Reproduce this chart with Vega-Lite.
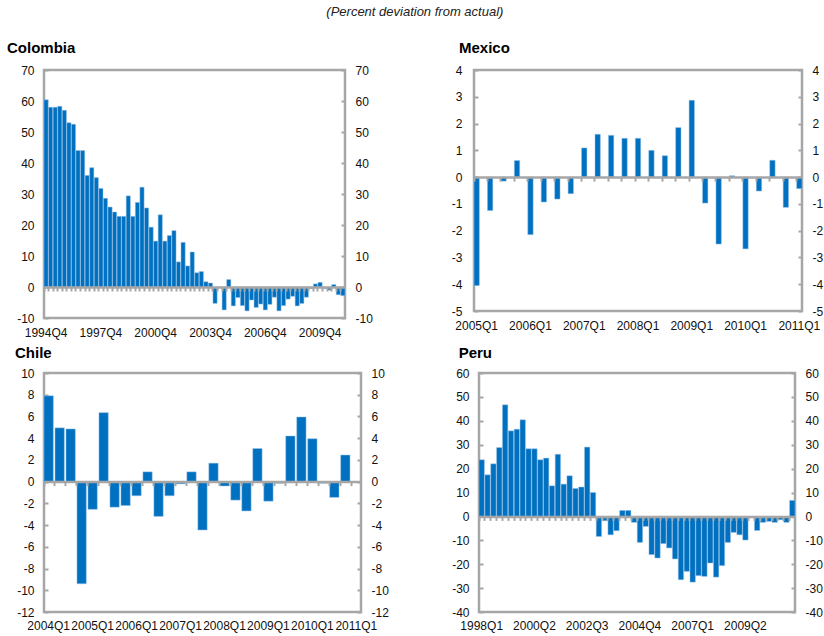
{
  "$schema": "https://vega.github.io/schema/vega-lite/v6.json",
  "padding": {"left": 5, "top": 5, "right": 0, "bottom": 0},
  "background": "white",
  "title": {"text": "(Percent deviation from actual)", "fontStyle": "italic", "fontWeight": "normal", "fontSize": 13, "font": "Liberation Sans", "color": "#222", "anchor": "middle", "offset": 21},
  "config": {
    "font": "Liberation Sans",
    "view": {"stroke": "#A6A6A6", "strokeWidth": 2.5},
    "axis": {"labelFont": "Liberation Sans", "labelFontSize": 12, "labelColor": "#111", "tickColor": "#A6A6A6", "tickWidth": 2, "title": null, "grid": false},
    "axisY": {"labelExpr": "'' + datum.value"},
    "title": {"font": "Liberation Sans", "fontSize": 15, "fontWeight": "bold", "color": "#000", "anchor": "start", "offset": 8}
  },
  "vconcat": [
    {
      "spacing": 71,
      "hconcat": [
        {
          "title": {"text": "Colombia"},
          "width": 301, "height": 248,
          "data": {"values": [
            {"q":"1994Q4","v":60.4},{"q":"1995Q1","v":58},{"q":"1995Q2","v":58},{"q":"1995Q3","v":58.3},{"q":"1995Q4","v":57},
            {"q":"1996Q1","v":53},{"q":"1996Q2","v":52.5},{"q":"1996Q3","v":44},{"q":"1996Q4","v":44},
            {"q":"1997Q1","v":36},{"q":"1997Q2","v":38.5},{"q":"1997Q3","v":35.3},{"q":"1997Q4","v":31.8},
            {"q":"1998Q1","v":28.6},{"q":"1998Q2","v":25.8},{"q":"1998Q3","v":24.2},{"q":"1998Q4","v":22.8},
            {"q":"1999Q1","v":22.8},{"q":"1999Q2","v":29.4},{"q":"1999Q3","v":22.8},{"q":"1999Q4","v":27.3},
            {"q":"2000Q1","v":32.2},{"q":"2000Q2","v":25.5},{"q":"2000Q3","v":19.3},{"q":"2000Q4","v":14.8},
            {"q":"2001Q1","v":23.3},{"q":"2001Q2","v":14.8},{"q":"2001Q3","v":16.6},{"q":"2001Q4","v":18.2},
            {"q":"2002Q1","v":8.1},{"q":"2002Q2","v":14.4},{"q":"2002Q3","v":6.8},{"q":"2002Q4","v":11.3},
            {"q":"2003Q1","v":4.6},{"q":"2003Q2","v":5},{"q":"2003Q3","v":1.7},{"q":"2003Q4","v":1.3},
            {"q":"2004Q1","v":-5.3},{"q":"2004Q2","v":-0.3},{"q":"2004Q3","v":-7.4},{"q":"2004Q4","v":2.4},
            {"q":"2005Q1","v":-6.1},{"q":"2005Q2","v":-3.4},{"q":"2005Q3","v":-6},{"q":"2005Q4","v":-7.7},
            {"q":"2006Q1","v":-4.2},{"q":"2006Q2","v":-6.6},{"q":"2006Q3","v":-5.5},{"q":"2006Q4","v":-7.4},
            {"q":"2007Q1","v":-5.6},{"q":"2007Q2","v":-3.3},{"q":"2007Q3","v":-7.7},{"q":"2007Q4","v":-6},
            {"q":"2008Q1","v":-3.9},{"q":"2008Q2","v":-3},{"q":"2008Q3","v":-6.1},{"q":"2008Q4","v":-5.3},
            {"q":"2009Q1","v":-3.3},{"q":"2009Q2","v":-0.5},{"q":"2009Q3","v":1},{"q":"2009Q4","v":1.5},
            {"q":"2010Q1","v":-0.5},{"q":"2010Q2","v":-1},{"q":"2010Q3","v":0.8},{"q":"2010Q4","v":-2.5},
            {"q":"2011Q1","v":-2.8}
          ]},
          "layer": [
            {
              "mark": {"type": "bar", "color": "#0070C0", "stroke": "#9DC3E6", "strokeWidth": 0.5},
              "encoding": {
                "x": {"field": "q", "type": "ordinal", "sort": null, "scale": {"paddingInner": 0.08, "paddingOuter": 0},
                      "axis": {"orient": "bottom", "values": ["1994Q4","1997Q4","2000Q4","2003Q4","2006Q4","2009Q4"], "ticks": false, "domain": false, "labelAngle": 0, "labelPadding": 9, "labelOverlap": false}},
                "y": {"field": "v", "type": "quantitative", "scale": {"domain": [-10, 70], "nice": false, "zero": false},
                      "axis": {"orient": "left", "values": [-10,0,10,20,30,40,50,60,70], "domain": false, "tickSize": -4, "labelPadding": 14, "minExtent": 37}}
              }
            },
            {
              "mark": {"type": "bar", "opacity": 0},
              "encoding": {
                "x": {"field": "q", "type": "ordinal", "sort": null,
                      "axis": {"orient": "bottom", "offset": -31, "labels": false, "ticks": true, "tickSize": 4, "bandPosition": 0, "domain": true, "domainColor": "#A6A6A6", "domainWidth": 2.5, "zindex": 1}},
                "y": {"field": "v", "type": "quantitative",
                      "axis": {"orient": "right", "values": [-10,0,10,20,30,40,50,60,70], "domain": false, "tickSize": -4, "labelPadding": 14, "minExtent": 30}}
              }
            }
          ],
          "resolve": {"axis": {"x": "independent", "y": "independent"}}
        },
        {
          "title": {"text": "Mexico", "dx": 9},
          "width": 328, "height": 241,
          "data": {"values": [
            {"q":"2005Q1","v":-4.05},{"q":"2005Q2","v":-1.25},{"q":"2005Q3","v":-0.15},{"q":"2005Q4","v":0.62},
            {"q":"2006Q1","v":-2.15},{"q":"2006Q2","v":-0.93},{"q":"2006Q3","v":-0.82},{"q":"2006Q4","v":-0.62},
            {"q":"2007Q1","v":1.09},{"q":"2007Q2","v":1.6},{"q":"2007Q3","v":1.56},{"q":"2007Q4","v":1.45},
            {"q":"2008Q1","v":1.45},{"q":"2008Q2","v":1.0},{"q":"2008Q3","v":0.8},{"q":"2008Q4","v":1.85},
            {"q":"2009Q1","v":2.87},{"q":"2009Q2","v":-0.97},{"q":"2009Q3","v":-2.5},{"q":"2009Q4","v":0.05},
            {"q":"2010Q1","v":-2.68},{"q":"2010Q2","v":-0.52},{"q":"2010Q3","v":0.63},{"q":"2010Q4","v":-1.13},
            {"q":"2011Q1","v":-0.43}
          ]},
          "layer": [
            {
              "mark": {"type": "bar", "color": "#0070C0", "stroke": "#9DC3E6", "strokeWidth": 0.5},
              "encoding": {
                "x": {"field": "q", "type": "ordinal", "sort": null, "scale": {"paddingInner": 0.6, "paddingOuter": 0},
                      "axis": {"orient": "bottom", "values": ["2005Q1","2006Q1","2007Q1","2008Q1","2009Q1","2010Q1","2011Q1"], "ticks": false, "domain": false, "labelAngle": 0, "labelPadding": 9, "labelOverlap": false}},
                "y": {"field": "v", "type": "quantitative", "scale": {"domain": [-5, 4], "nice": false, "zero": false},
                      "axis": {"orient": "left", "values": [-5,-4,-3,-2,-1,0,1,2,3,4], "domain": false, "tickSize": -4, "labelPadding": 16, "minExtent": 24}}
              }
            },
            {
              "mark": {"type": "bar", "opacity": 0},
              "encoding": {
                "x": {"field": "q", "type": "ordinal", "sort": null,
                      "axis": {"orient": "bottom", "offset": -133.9, "labels": false, "ticks": true, "tickSize": 4, "bandPosition": 0, "domain": true, "domainColor": "#A6A6A6", "domainWidth": 2.5, "zindex": 1}},
                "y": {"field": "v", "type": "quantitative",
                      "axis": {"orient": "right", "values": [-5,-4,-3,-2,-1,0,1,2,3,4], "domain": false, "tickSize": -4, "labelPadding": 14}}
              }
            }
          ],
          "resolve": {"axis": {"x": "independent", "y": "independent"}}
        }
      ]
    },
    {
      "spacing": 57,
      "hconcat": [
        {
          "title": {"text": "Chile", "dx": 2, "offset": 6},
          "width": 317, "height": 239,
          "data": {"values": [
            {"q":"2004Q1","v":7.9},{"q":"2004Q2","v":4.95},{"q":"2004Q3","v":4.85},{"q":"2004Q4","v":-9.4},
            {"q":"2005Q1","v":-2.55},{"q":"2005Q2","v":6.35},{"q":"2005Q3","v":-2.35},{"q":"2005Q4","v":-2.2},
            {"q":"2006Q1","v":-1.3},{"q":"2006Q2","v":0.9},{"q":"2006Q3","v":-3.2},{"q":"2006Q4","v":-1.3},
            {"q":"2007Q1","v":-0.2},{"q":"2007Q2","v":0.9},{"q":"2007Q3","v":-4.45},{"q":"2007Q4","v":1.7},
            {"q":"2008Q1","v":-0.4},{"q":"2008Q2","v":-1.7},{"q":"2008Q3","v":-2.7},{"q":"2008Q4","v":3.05},
            {"q":"2009Q1","v":-1.8},{"q":"2009Q2","v":-0.15},{"q":"2009Q3","v":4.2},{"q":"2009Q4","v":5.95},
            {"q":"2010Q1","v":3.95},{"q":"2010Q2","v":-0.15},{"q":"2010Q3","v":-1.45},{"q":"2010Q4","v":2.45},
            {"q":"2011Q1","v":0}
          ]},
          "layer": [
            {
              "mark": {"type": "bar", "color": "#0070C0", "stroke": "#9DC3E6", "strokeWidth": 0.5},
              "encoding": {
                "x": {"field": "q", "type": "ordinal", "sort": null, "scale": {"paddingInner": 0.15, "paddingOuter": 0},
                      "axis": {"orient": "bottom", "values": ["2004Q1","2005Q1","2006Q1","2007Q1","2008Q1","2009Q1","2010Q1","2011Q1"], "ticks": false, "domain": false, "labelAngle": 0, "labelPadding": 8, "labelOverlap": false}},
                "y": {"field": "v", "type": "quantitative", "scale": {"domain": [-12, 10], "nice": false, "zero": false},
                      "axis": {"orient": "left", "values": [-12,-10,-8,-6,-4,-2,0,2,4,6,8,10], "domain": false, "tickSize": -4, "labelPadding": 14, "minExtent": 31}}
              }
            },
            {
              "mark": {"type": "bar", "opacity": 0},
              "encoding": {
                "x": {"field": "q", "type": "ordinal", "sort": null,
                      "axis": {"orient": "bottom", "offset": -130.4, "labels": false, "ticks": true, "tickSize": 4, "bandPosition": 0, "domain": true, "domainColor": "#A6A6A6", "domainWidth": 2.5, "zindex": 1}},
                "y": {"field": "v", "type": "quantitative",
                      "axis": {"orient": "right", "values": [-12,-10,-8,-6,-4,-2,0,2,4,6,8,10], "domain": false, "tickSize": -4, "labelPadding": 14, "minExtent": 30}}
              }
            }
          ],
          "resolve": {"axis": {"x": "independent", "y": "independent"}}
        },
        {
          "title": {"text": "Peru", "dx": 7, "offset": 6},
          "width": 316, "height": 239,
          "data": {"values": [
            {"q":"1998Q1","v":23.7},{"q":"1998Q2","v":17.4},{"q":"1998Q3","v":22},{"q":"1998Q4","v":28.8},
            {"q":"1999Q1","v":46.7},{"q":"1999Q2","v":35.8},{"q":"1999Q3","v":36.5},{"q":"1999Q4","v":40.4},
            {"q":"2000Q1","v":28.3},{"q":"2000Q2","v":28.3},{"q":"2000Q3","v":23.7},{"q":"2000Q4","v":24.4},
            {"q":"2001Q1","v":12.8},{"q":"2001Q2","v":26},{"q":"2001Q3","v":13.5},{"q":"2001Q4","v":17},
            {"q":"2002Q1","v":11.7},{"q":"2002Q2","v":12.3},{"q":"2002Q3","v":29},{"q":"2002Q4","v":10},
            {"q":"2003Q1","v":-8.4},{"q":"2003Q2","v":-1.8},{"q":"2003Q3","v":-7.7},{"q":"2003Q4","v":-6},
            {"q":"2004Q1","v":2.5},{"q":"2004Q2","v":2.5},{"q":"2004Q3","v":-2.5},{"q":"2004Q4","v":-10.9},
            {"q":"2005Q1","v":-4.2},{"q":"2005Q2","v":-16},{"q":"2005Q3","v":-17.4},{"q":"2005Q4","v":-11.4},
            {"q":"2006Q1","v":-13.2},{"q":"2006Q2","v":-17.8},{"q":"2006Q3","v":-26.5},{"q":"2006Q4","v":-23},
            {"q":"2007Q1","v":-27.5},{"q":"2007Q2","v":-24.8},{"q":"2007Q3","v":-25.1},{"q":"2007Q4","v":-19.5},
            {"q":"2008Q1","v":-25.4},{"q":"2008Q2","v":-20.6},{"q":"2008Q3","v":-10.9},{"q":"2008Q4","v":-6.7},
            {"q":"2009Q1","v":-7.7},{"q":"2009Q2","v":-9.9},{"q":"2009Q3","v":-0.5},{"q":"2009Q4","v":-5.9},
            {"q":"2010Q1","v":-2.5},{"q":"2010Q2","v":-2.1},{"q":"2010Q3","v":-2.5},{"q":"2010Q4","v":-1.4},
            {"q":"2011Q1","v":-2.5},{"q":"2011Q2","v":6.7}
          ]},
          "layer": [
            {
              "mark": {"type": "bar", "color": "#0070C0", "stroke": "#9DC3E6", "strokeWidth": 0.5},
              "encoding": {
                "x": {"field": "q", "type": "ordinal", "sort": null, "scale": {"paddingInner": 0.08, "paddingOuter": 0},
                      "axis": {"orient": "bottom", "values": ["1998Q1","2000Q2","2002Q3","2004Q4","2007Q1","2009Q2"], "ticks": false, "domain": false, "labelAngle": 0, "labelPadding": 8, "labelOverlap": false}},
                "y": {"field": "v", "type": "quantitative", "scale": {"domain": [-40, 60], "nice": false, "zero": false},
                      "axis": {"orient": "left", "values": [-40,-30,-20,-10,0,10,20,30,40,50,60], "domain": false, "tickSize": -4, "labelPadding": 14, "minExtent": 27}}
              }
            },
            {
              "mark": {"type": "bar", "opacity": 0},
              "encoding": {
                "x": {"field": "q", "type": "ordinal", "sort": null,
                      "axis": {"orient": "bottom", "offset": -95.6, "labels": false, "ticks": true, "tickSize": 4, "bandPosition": 0, "domain": true, "domainColor": "#A6A6A6", "domainWidth": 2.5, "zindex": 1}},
                "y": {"field": "v", "type": "quantitative",
                      "axis": {"orient": "right", "values": [-40,-30,-20,-10,0,10,20,30,40,50,60], "domain": false, "tickSize": -4, "labelPadding": 14}}
              }
            }
          ],
          "resolve": {"axis": {"x": "independent", "y": "independent"}}
        }
      ]
    }
  ],
  "spacing": 4
}
